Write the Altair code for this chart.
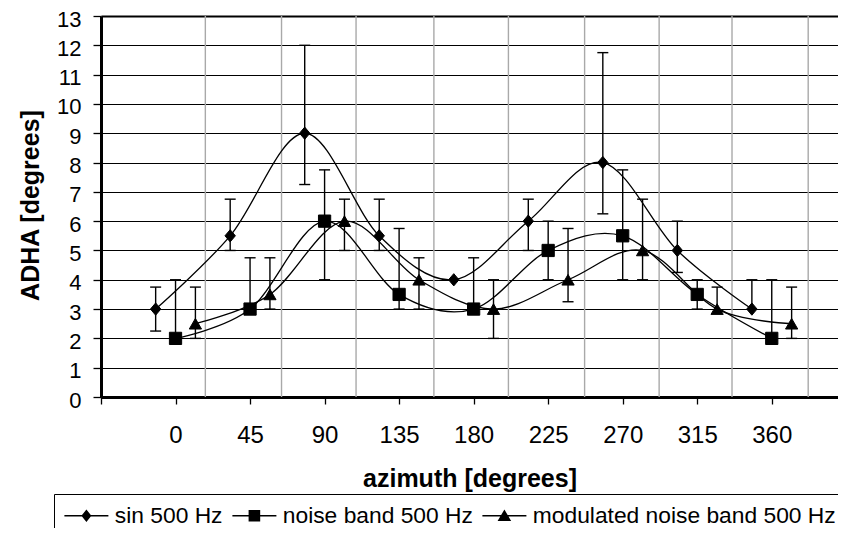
import altair as alt
import pandas as pd

# ---- data ----
azimuth = [0, 45, 90, 135, 180, 225, 270, 315, 360]
series_names = ["sin 500 Hz", "noise band 500 Hz", "modulated noise band 500 Hz"]

sin_vals = [3, 5.5, 9, 5.5, 4, 6, 8, 5, 3]
sin_hi = [3.75, 6.75, 12, 6.75, 4, 6.75, 11.75, 6, 4]
sin_lo = [2.25, 5, 7.25, 5, 4, 5, 6.25, 4.25, 3]

noise_vals = [2, 3, 6, 3.5, 3, 5, 5.5, 3.5, 2]
noise_hi = [4, 4.75, 7.75, 5.75, 4.75, 6, 7.75, 4, 4]
noise_lo = [2, 3, 4, 3, 3, 4, 4, 3, 2]

mod_vals = [2.5, 3.5, 6, 4, 3, 4, 5, 3, 2.5]
mod_hi = [3.75, 4.75, 6.75, 4.75, 4, 5.75, 6.75, 3.75, 3.75]
mod_lo = [2, 3, 5, 3, 2, 3.25, 4, 3, 2]

x_ticks = [-45, 0, 45, 90, 135, 180, 225, 270, 315, 360, 405]
y_ticks = list(range(0, 14))
gray_grid = [18, 64, 109, 156, 201, 247, 292, 336, 382]

# series drawn side by side around each azimuth (Excel-like offsets)
series_offset = {"sin 500 Hz": -12, "noise band 500 Hz": 0, "modulated noise band 500 Hz": 12}

rows = []
for name, vals, his, los in [
    (series_names[0], sin_vals, sin_hi, sin_lo),
    (series_names[1], noise_vals, noise_hi, noise_lo),
    (series_names[2], mod_vals, mod_hi, mod_lo),
]:
    for az, v, h, l in zip(azimuth, vals, his, los):
        rows.append({"series": name, "az": az, "x": az + series_offset[name],
                     "v": v, "hi": h, "lo": l})
df = pd.DataFrame(rows)

caps = []
for r in rows:
    if r["hi"] > r["v"]:
        caps.append({"x": r["x"], "y": r["hi"]})
    if r["lo"] < r["v"]:
        caps.append({"x": r["x"], "y": r["lo"]})
df_caps = pd.DataFrame(caps)
df_grid = pd.DataFrame({"g": gray_grid})
df_leg = pd.DataFrame({"series": series_names, "x": [0, 0, 0], "y": [-5, -5, -5]})

FONT = "Liberation Sans"

xscale = alt.Scale(domain=[-45, 400], nice=False, zero=False)
yscale = alt.Scale(domain=[0, 13], nice=False, zero=True)

x_axis = alt.Axis(
    values=x_ticks,
    labelExpr="datum.value < 0 || datum.value > 360 ? '' : datum.label",
    grid=False, tickSize=7, tickWidth=1.3, tickColor="black",
    domainWidth=3, domainColor="black", labelOverlap=False,
    labelFont=FONT, labelFontSize=24, labelColor="black", labelPadding=19,
    title="azimuth [degrees]", titleFont=FONT, titleFontSize=25,
    titleFontWeight="bold", titleColor="black", titleY=81, titleBaseline="middle",
)
y_axis = alt.Axis(
    values=y_ticks, grid=True, gridColor="black",
    gridWidth={"condition": {"test": "datum.value === 13", "value": 2.2}, "value": 1.2},
    gridOpacity=1, labelOverlap=False, labelOffset=3,
    tickSize=8, tickWidth=1.3, tickColor="black",
    domainWidth=3, domainColor="black",
    labelFont=FONT, labelFontSize=22, labelColor="black", labelPadding=12,
    title="ADHA [degrees]", titleFont=FONT, titleFontSize=25,
    titleFontWeight="bold", titleColor="black", titleX=-71, titleY=189,
    titleBaseline="middle", titleAlign="center", titleAngle=-90,
)


def X(field):
    return alt.X(field, scale=xscale, axis=x_axis)


def Y(field):
    return alt.Y(field, scale=yscale, axis=y_axis)


vgrid = alt.Chart(df_grid).mark_rule(color="#a9a9a9", strokeWidth=1.4).encode(
    x=X("g:Q"),
)

err = alt.Chart(df).mark_rule(color="black", strokeWidth=1.4).encode(
    x=X("x:Q"),
    y=Y("lo:Q"),
    y2="hi:Q",
)

cap = alt.Chart(df_caps).mark_tick(orient="horizontal", size=11, thickness=1.4,
                                   color="black", opacity=1).encode(
    x=X("x:Q"),
    y=Y("y:Q"),
)

lines = alt.Chart(df).mark_line(interpolate="cardinal", color="black", strokeWidth=1.3).encode(
    x=X("x:Q"),
    y=Y("v:Q"),
    detail="series:N",
    order="x:Q",
)

marker_shapes = ["M0,-1L0.85,0L0,1L-0.85,0Z", "square", "triangle-up"]
points = alt.Chart(df).mark_point(filled=True, fill="black", stroke="black",
                                  strokeWidth=1, opacity=1, size=150).encode(
    x=X("x:Q"),
    y=Y("v:Q"),
    shape=alt.Shape("series:N", scale=alt.Scale(domain=series_names, range=marker_shapes),
                    legend=None),
)

# legend symbols: a thin bar (the line) plus the marker, all drawn clockwise
legend_shapes = [
    "M-2.2,-0.07H2.2V0.07H-2.2ZM0,-0.62L0.5,0L0,0.62L-0.5,0Z",
    "M-2.2,-0.07H2.2V0.07H-2.2ZM-0.58,-0.58H0.58V0.58H-0.58Z",
    "M-2.2,-0.07H2.2V0.07H-2.2ZM0,-0.62L0.68,0.52H-0.68Z",
]
leg = alt.Chart(df_leg).mark_point(filled=True, fill="black", stroke="black",
                                   strokeWidth=0.6, opacity=1, clip=True).encode(
    x=X("x:Q"),
    y=Y("y:Q"),
    shape=alt.Shape(
        "series:N",
        scale=alt.Scale(domain=series_names, range=legend_shapes),
        sort=series_names,
        legend=alt.Legend(
            title=None, orient="none", legendX=-47, legendY=478,
            direction="horizontal", columns=3,
            strokeColor="black", fillColor="white", padding=10,
            labelFont=FONT, labelFontSize=22.8, labelColor="black", labelLimit=500,
            symbolSize=400, symbolStrokeWidth=0.6, symbolFillColor="black",
            symbolStrokeColor="black", symbolOffset=11, labelOffset=17,
            columnPadding=8, symbolOpacity=1,
        ),
    ),
)

chart = alt.layer(vgrid, err, cap, lines, points, leg).resolve_scale(
    shape="independent"
).properties(
    width=737, height=381,
    padding={"left": 93, "top": 8, "right": 0, "bottom": 131},
    autosize=alt.AutoSizeParams(type="none"),
).configure_view(stroke=None).configure(font=FONT, background="white")

chart.save("out.html", embed_options={"renderer": "svg", "actions": False})
